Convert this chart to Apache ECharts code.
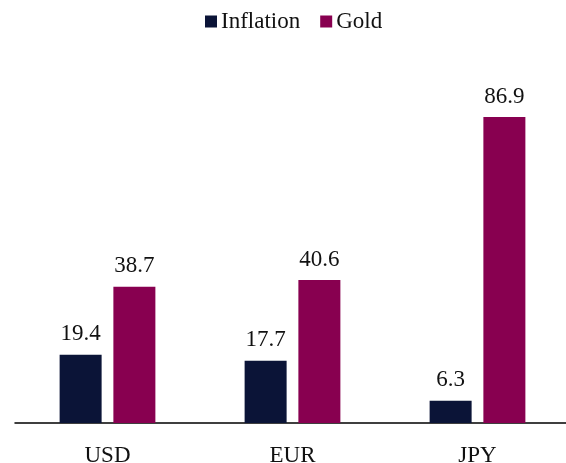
<!DOCTYPE html>
<html>
<head>
<meta charset="utf-8">
<script src="https://cdn.jsdelivr.net/npm/echarts@6/dist/echarts.min.js"></script>
<style>
  html, body { margin: 0; padding: 0; background: #fff; }
  #chart { width: 566px; height: 463px; }
</style>
</head>
<body>
<div id="chart"></div>
<script>
// data
const categories = ['USD', 'EUR', 'JPY'];
const inflation = [19.4, 17.7, 6.3];
const gold = [38.7, 40.6, 86.9];

const font = '"Liberation Serif", "Times New Roman", serif';

const chart = echarts.init(document.getElementById('chart'));

const labelStyle = {
  show: true,
  position: 'top',
  distance: 9,
  color: '#111',
  fontFamily: font,
  fontSize: 23
};

chart.setOption({
  animation: false,
  legend: {
    top: 5,
    left: 200,
    itemWidth: 12,
    itemHeight: 12,
    itemGap: 20,
    icon: 'rect',
    textStyle: { fontFamily: font, fontSize: 23, color: '#111', padding: [0, 0, 0, -1] },
    data: ['Inflation', 'Gold']
  },
  grid: {
    left: 15,
    width: 555,
    top: 71,
    bottom: 40,
    outerBoundsMode: 'none',
    containLabel: false
  },
  xAxis: {
    type: 'category',
    data: categories,
    axisLine: { lineStyle: { color: '#000', width: 1.5 } },
    axisTick: { show: false },
    axisLabel: { margin: 21, fontFamily: font, fontSize: 23, color: '#111' }
  },
  yAxis: {
    type: 'value',
    min: 0,
    max: 100,
    show: false,
    splitLine: { show: false }
  },
  series: [
    {
      name: 'Inflation',
      type: 'bar',
      data: inflation,
      barWidth: 42,
      barGap: '28%',
      itemStyle: { color: '#0b1437' },
      label: labelStyle
    },
    {
      name: 'Gold',
      type: 'bar',
      data: gold,
      barWidth: 42,
      itemStyle: { color: '#880050' },
      label: labelStyle
    }
  ]
});
</script>
</body>
</html>
